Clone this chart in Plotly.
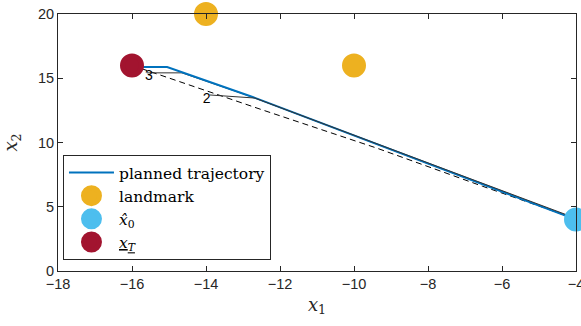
import plotly.graph_objects as go

# ---- data ----
traj_x = [-16.0, -15.05, -12.74, -4.0]
traj_y = [15.88, 15.88, 13.54, 4.0]

init_x = [-16.0, -12.47, -9.39, -6.53, -4.0]
init_y = [16.0, 12.53, 9.57, 6.6, 4.05]

iter3_x = [-15.6, -14.65, -12.73, -4.0]
iter3_y = [15.42, 15.42, 13.52, 4.0]

iter2_x = [-13.9, -12.68, -4.0]
iter2_y = [13.7, 13.46, 4.1]

label_x = [-15.54, -13.98]
label_y = [15.14, 13.35]
label_text = ["3", "2"]

landmark_x = [-14.0, -10.0]
landmark_y = [20.0, 16.0]

x0_x = [-4.0]
x0_y = [4.0]

xT_x = [-16.0]
xT_y = [16.0]

x_ticks = [-18, -16, -14, -12, -10, -8, -6, -4]
y_ticks = [0, 5, 10, 15, 20]

BLUE = "#0072BD"
ORANGE = "#EDB120"
LBLUE = "#4DBEEE"
RED = "#A2142F"
AX = "#262626"

fig = go.Figure()

fig.add_trace(go.Scatter(x=init_x, y=init_y, mode="lines",
                         line=dict(color="black", width=1, dash="6px,4px"),
                         showlegend=False, hoverinfo="skip"))
fig.add_trace(go.Scatter(x=iter3_x, y=iter3_y, mode="lines",
                         line=dict(color="#333333", width=1),
                         showlegend=False, hoverinfo="skip"))
fig.add_trace(go.Scatter(x=traj_x, y=traj_y, mode="lines", cliponaxis=False,
                         line=dict(color=BLUE, width=2),
                         name="planned trajectory"))
fig.add_trace(go.Scatter(x=iter2_x, y=iter2_y, mode="lines",
                         line=dict(color="#333333", width=1),
                         showlegend=False, hoverinfo="skip"))
fig.add_trace(go.Scatter(x=label_x, y=label_y, mode="text", text=label_text,
                         textposition="middle center",
                         textfont=dict(family="Liberation Sans", size=14, color="black"),
                         showlegend=False, hoverinfo="skip"))

def marker_trace(x, y, color, name):
    return go.Scatter(x=x, y=y, mode="markers", name=name, cliponaxis=False,
                      marker=dict(color=color, size=19, line=dict(color=color, width=5)))

fig.add_trace(marker_trace(landmark_x, landmark_y, ORANGE, "landmark"))
fig.add_trace(marker_trace(x0_x, x0_y, LBLUE, "<i>x\u0302</i><sub>0</sub>"))
fig.add_trace(marker_trace(xT_x, xT_y, RED, "<u><i>x</i><sub><i>T</i></sub></u>"))

axis_common = dict(
    showgrid=False, zeroline=False, showline=True, linecolor=AX, linewidth=1,
    mirror="ticks", ticks="inside", ticklen=5, tickcolor=AX, tickwidth=1,
    tickfont=dict(family="Liberation Sans", size=14.5, color=AX),
    automargin=False, ticklabeloverflow="allow",
)

fig.update_layout(
    width=581, height=326,
    margin=dict(l=58, r=5, t=14, b=55),
    paper_bgcolor="white", plot_bgcolor="white",
    xaxis=dict(range=[-18, -4], tickvals=x_ticks,
               title=dict(text="<i>x</i><sub>1</sub>", standoff=6,
                          font=dict(family="DejaVu Serif", size=18, color=AX)),
               **axis_common),
    yaxis=dict(range=[0, 20], tickvals=y_ticks,
               title=dict(text="<i>x</i><sub>2</sub>", standoff=32,
                          font=dict(family="DejaVu Serif", size=18, color=AX)),
               **axis_common),
    legend=dict(x=0.0096, y=0.043, xanchor="left", yanchor="bottom",
                bgcolor="white", bordercolor=AX, borderwidth=1,
                font=dict(family="DejaVu Serif", size=15.5, color="black"),
                itemwidth=45, tracegroupgap=0),
    showlegend=True,
)

# remove the default page margin so the figure fills the window exactly
fig.write_html("out.html",
               config={"displayModeBar": False},
               post_script="document.body.style.margin='0';document.body.style.overflow='hidden';")
